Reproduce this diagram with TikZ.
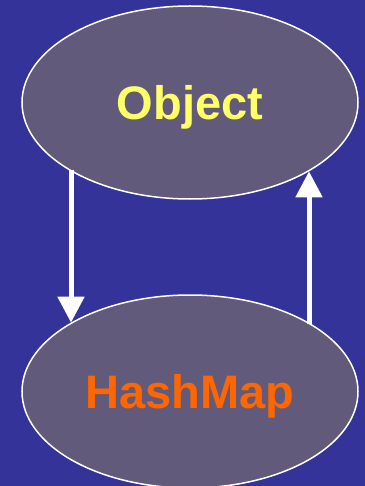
\documentclass[tikz,border=0pt]{standalone}
\usepackage{fontspec}
\setmainfont{Liberation Sans}
\usetikzlibrary{shapes.geometric,arrows.meta}
\definecolor{bgblue}{RGB}{51,51,153}
\definecolor{ovalfill}{RGB}{98,90,122}
\definecolor{objyellow}{RGB}{255,255,102}
\definecolor{maporange}{RGB}{255,102,0}
\tikzset{
  oval/.style={ellipse, draw=white, line width=1.5pt, fill=ovalfill,
    minimum width=336pt, minimum height=193pt, inner sep=0pt,
    font=\fontsize{47}{50}\selectfont\bfseries, text height=33.7pt, text depth=0pt},
  link/.style={draw=white, line width=5pt, -{Triangle[width=26pt,length=26pt]}}
}
\begin{document}
\begin{tikzpicture}[x=1pt,y=1pt]
  \useasboundingbox (0,0) rectangle (364,-486);
  \fill[bgblue] (-6,6) rectangle (370,-492);
  \node[oval, text=objyellow] (obj) at (190,-102.5) {Object};
  \node[oval, text=maporange] (map) at (190,-391.5) {HashMap};
  \coordinate (lx) at (71,0);
  \coordinate (rx) at (309,0);
  \draw[link] (obj.209.8 -| lx) -- (map.150.2 -| lx);
  \draw[link] (map.29.8 -| rx) -- (obj.330.2 -| rx);
\end{tikzpicture}
\end{document}
